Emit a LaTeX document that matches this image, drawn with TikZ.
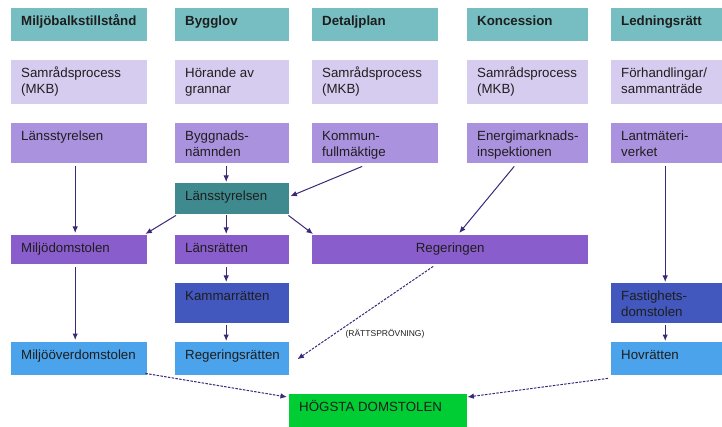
\documentclass[tikz,border=0pt]{standalone}
\usepackage{fontspec}
\setmainfont{Liberation Sans}
\usetikzlibrary{arrows.meta}
\definecolor{hdr}{HTML}{76BEC2}
\definecolor{rowtwo}{HTML}{D6CCEF}
\definecolor{rowthree}{HTML}{AB92DF}
\definecolor{lsmid}{HTML}{3F8A8E}
\definecolor{rowfour}{HTML}{8A5DCC}
\definecolor{rowfive}{HTML}{4258BE}
\definecolor{rowsix}{HTML}{4BA3EB}
\definecolor{topgreen}{HTML}{00CC33}
\definecolor{arrc}{HTML}{3B2878}
\definecolor{txtc}{HTML}{1E1E1E}
\tikzset{
  box/.style={rectangle, draw=none, inner sep=0pt, anchor=north west},
  lbl/.style={anchor=base west, inner sep=0pt, font=\fontsize{13.3}{16.5}\selectfont, text=txtc},
  clbl/.style={lbl, anchor=base},
  arr/.style={draw=arrc, line width=1pt, -{Latex[length=6.5pt,width=5.5pt]}},
  dsh/.style={arr, dash pattern=on 2.5pt off 1.3pt},
}
\newcommand\mkbox[7]{%
  \node[box, fill=#6, minimum width=#4pt, minimum height=#5pt] (#1) at (#2,#3) {};
  \node[lbl] (#1t) at ([xshift=10pt,yshift=-17.5pt]#1.north west)
    {\begin{tabular}[t]{@{}l@{}}#7\end{tabular}};}
\begin{document}
\begin{tikzpicture}[x=1pt,y=-1pt]
\useasboundingbox (0,0) rectangle (722,427);
% headers
\mkbox{h1}{11}{8}{136}{33}{hdr}{\textbf{Miljöbalkstillstånd}}
\mkbox{h2}{175}{8}{114}{33}{hdr}{\textbf{Bygglov}}
\mkbox{h3}{312}{8}{126}{33}{hdr}{\textbf{Detaljplan}}
\mkbox{h4}{467}{8}{121}{33}{hdr}{\textbf{Koncession}}
\mkbox{h5}{611}{8}{111}{33}{hdr}{\textbf{Ledningsrätt}}
% row 2
\mkbox{p1}{11}{60}{136}{44}{rowtwo}{Samrådsprocess\\(MKB)}
\mkbox{p2}{175}{60}{114}{44}{rowtwo}{Hörande av\\grannar}
\mkbox{p3}{312}{60}{126}{44}{rowtwo}{Samrådsprocess\\(MKB)}
\mkbox{p4}{467}{60}{121}{44}{rowtwo}{Samrådsprocess\\(MKB)}
\mkbox{p5}{611}{60}{111}{44}{rowtwo}{Förhandlingar/\\sammanträde}
% row 3
\mkbox{m1}{11}{123}{136}{40}{rowthree}{Länsstyrelsen}
\mkbox{m2}{175}{123}{114}{40}{rowthree}{Byggnads-\\nämnden}
\mkbox{m3}{312}{123}{126}{40}{rowthree}{Kommun-\\fullmäktige}
\mkbox{m4}{467}{123}{121}{40}{rowthree}{Energimarknads-\\inspektionen}
\mkbox{m5}{611}{123}{111}{40}{rowthree}{Lantmäteri-\\verket}
% middle
\mkbox{ls}{175}{183}{114}{31}{lsmid}{Länsstyrelsen}
% row 4
\mkbox{md}{11}{235}{136}{29}{rowfour}{Miljödomstolen}
\mkbox{lr}{175}{235}{114}{29}{rowfour}{Länsrätten}
\node[box, fill=rowfour, minimum width=276pt, minimum height=29pt] (reg) at (312,235) {};
\node[clbl] (regt) at ([yshift=-17.5pt]reg.north) {Regeringen};
% row 5
\mkbox{kr}{175}{283}{114}{40}{rowfive}{Kammarrätten}
\mkbox{fd}{611}{283}{111}{40}{rowfive}{Fastighets-\\domstolen}
% row 6
\mkbox{mod}{11}{342}{136}{33}{rowsix}{Miljööverdomstolen}
\mkbox{rr}{175}{342}{114}{33}{rowsix}{Regeringsrätten}
\mkbox{hr}{611}{342}{111}{33}{rowsix}{Hovrätten}
% top court
\mkbox{hd}{289}{394}{178}{33}{topgreen}{HÖGSTA DOMSTOLEN}
% label
\node[inner sep=0pt, font=\fontsize{8.5}{10}\selectfont, text=txtc] (rp) at (385,334) {(RÄTTSPRÖVNING)};
% arrows
\draw[arr] ([xshift=-4pt,yshift=-3pt]m1.south) -- ([xshift=-4pt,yshift=2pt]md.north);
\draw[arr] ([xshift=-4pt,yshift=-3pt]md.south) -- ([xshift=-4pt,yshift=2pt]mod.north);
\draw[arr] ([xshift=-6pt,yshift=-3pt]m2.south) -- ([xshift=-6pt,yshift=1pt]ls.north);
\draw[arr] ([xshift=-6pt,yshift=-1pt]ls.south) -- ([xshift=-6pt,yshift=1pt]lr.north);
\draw[arr] ([xshift=-6pt,yshift=-3pt]lr.south) -- ([xshift=-6pt,yshift=1pt]kr.north);
\draw[arr] ([xshift=-6pt,yshift=-2pt]kr.south) -- ([xshift=-6pt,yshift=1pt]rr.north);
\draw[arr] ([xshift=-1.5pt,yshift=-3pt]m5.south) -- ([xshift=-1.5pt,yshift=1pt]fd.north);
\draw[arr] ([xshift=-1.5pt,yshift=-2pt]fd.south) -- ([xshift=-1.5pt,yshift=1pt]hr.north);
\draw[arr] ([xshift=-13pt,yshift=-3pt]m3.south) -- ([xshift=1pt,yshift=2.5pt]ls.east);
\draw[arr] ([xshift=-13.5pt,yshift=-3pt]m4.south) -- ([xshift=9pt,yshift=2pt]reg.north);
\draw[arr] ([xshift=1pt,yshift=-1pt]ls.south west) -- ([xshift=-2pt,yshift=1pt]md.north east);
\draw[arr] ([xshift=-1pt,yshift=-1pt]ls.south east) -- ([xshift=1pt,yshift=1pt]reg.north west);
\draw[dsh] ([xshift=-17pt,yshift=-2pt]reg.south) -- ([xshift=8pt,yshift=-0.5pt]rr.east);
\draw[dsh] ([xshift=-2pt,yshift=2pt]mod.south east) -- ([xshift=-2pt,yshift=-3pt]hd.north west);
\draw[dsh] ([xshift=-3pt,yshift=-3pt]hr.south west) -- ([yshift=-3pt]hd.north east);
\end{tikzpicture}
\end{document}
